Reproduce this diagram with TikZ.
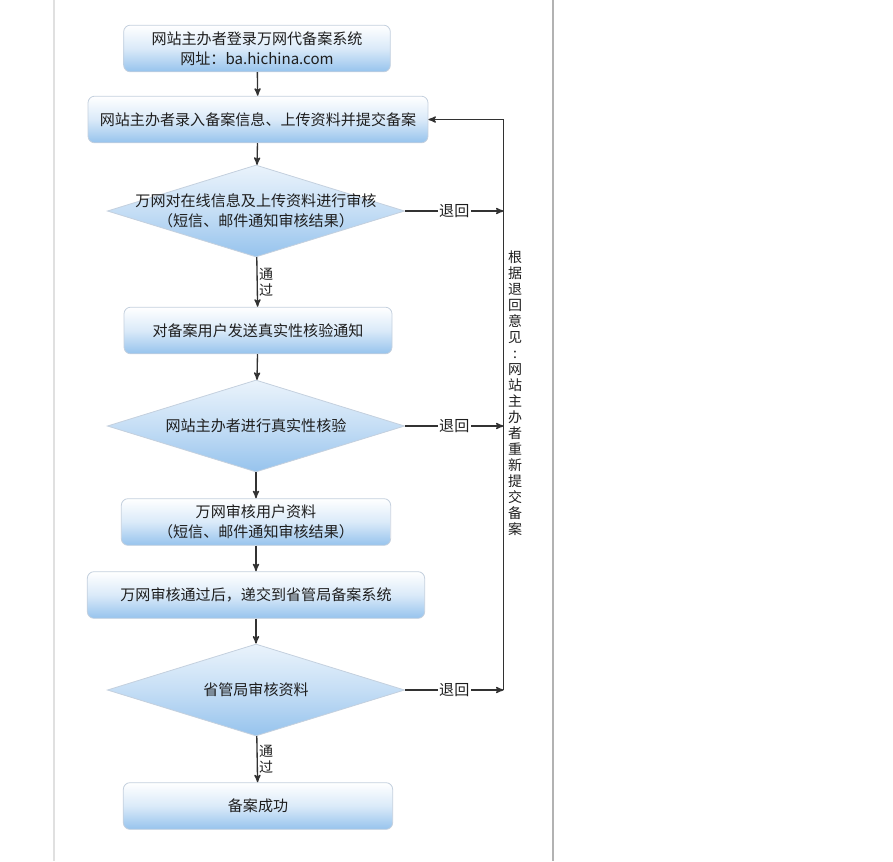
\documentclass[tikz,border=0pt]{standalone}
\usepackage{fontspec}
\setmainfont{Noto Sans CJK SC}
\usepackage{xcolor}
\usetikzlibrary{arrows, positioning, shapes.geometric}

\definecolor{boxblue}{RGB}{150,195,237}
\definecolor{boxedge}{RGB}{196,208,222}
\definecolor{linegray}{RGB}{50,50,50}
\definecolor{txtgray}{RGB}{30,30,30}

\begin{document}
\begin{tikzpicture}[x=0.75pt, y=-0.75pt,
	>=stealth',
	font=\fontsize{11.3}{15}\selectfont,
	stepbox/.style={draw=boxedge, line width=0.6pt, rounded corners=5pt,
		top color=white, bottom color=boxblue, middle color=boxblue!35,
		minimum height=35pt, inner sep=0pt, align=center, text=txtgray},
	decision/.style={diamond, draw=boxedge, line width=0.6pt,
		top color=boxblue!20, bottom color=boxblue, middle color=boxblue!55,
		minimum width=223pt, minimum height=69pt, inner sep=0pt},
	dtext/.style={align=center, text=txtgray},
	arrow/.style={->, draw=linegray, line width=1pt},
	backlabel/.style={fill=white, inner sep=1pt, text=txtgray},
	passlabel/.style={right, align=center, inner sep=1pt, text=txtgray,
		font=\fontsize{10.5}{12}\selectfont}]

	\useasboundingbox (0,0) rectangle (893,861);
	% page edges
	\draw[draw=black!12, line width=0.8pt] (54,0) -- (54,861);
	\draw[draw=black!30, line width=0.8pt] (553,0) -- (553,861);

	\node[stepbox, minimum width=200pt] (login) at (257,48.5) {网站主办者登录万网代备案系统\\网址：ba.hichina.com};
	\node[stepbox, minimum width=255pt] (submit) at (258,119.5) {网站主办者录入备案信息、上传资料并提交备案};
	\node[decision] (check1) at (256,211) {};
	\node[dtext] at (check1) {万网对在线信息及上传资料进行审核\\（短信、邮件通知审核结果）};
	\node[stepbox, minimum width=201pt] (notify) at (258,330.5) {对备案用户发送真实性核验通知};
	\node[decision] (verify) at (256,426) {};
	\node[dtext] at (verify) {网站主办者进行真实性核验};
	\node[stepbox, minimum width=202pt] (review) at (256,522) {万网审核用户资料\\（短信、邮件通知审核结果）};
	\node[stepbox, minimum width=253pt] (forward) at (256,595) {万网审核通过后，递交到省管局备案系统};
	\node[decision] (check3) at (256,690) {};
	\node[dtext] at (check3) {省管局审核资料};
	\node[stepbox, minimum width=202pt] (done) at (258,806) {备案成功};

	\coordinate (rtop) at (503.5,119.5);
	\coordinate (rbot) at (503.5,690);

	\draw[arrow] (login) -- (submit);
	\draw[arrow] (submit) -- (check1);
	\draw[arrow] (check1) -- node[passlabel] {通\\过} (notify);
	\draw[arrow] (notify) -- (verify);
	\draw[arrow] (verify) -- (review);
	\draw[arrow] (review) -- (forward);
	\draw[arrow] (forward) -- (check3);
	\draw[arrow] (check3) -- node[passlabel] {通\\过} (done);

	\draw[arrow] (check1.east) -- node[backlabel] {退回} (check1.east -| rtop);
	\draw[arrow] (verify.east) -- node[backlabel] {退回} (verify.east -| rtop);
	\draw[arrow] (check3.east) -- node[backlabel] {退回} (rbot);
	\draw[draw=linegray, line width=1pt] (rbot) -- node[pos=0.52, right, xshift=2pt, align=center, inner sep=1pt,
		text=txtgray, font=\fontsize{10.5}{12}\selectfont]
		{根\\据\\退\\回\\意\\见\\:\\网\\站\\主\\办\\者\\重\\新\\提\\交\\备\\案} (rtop);
	\draw[arrow] (rtop) -- (submit);
\end{tikzpicture}
\end{document}
